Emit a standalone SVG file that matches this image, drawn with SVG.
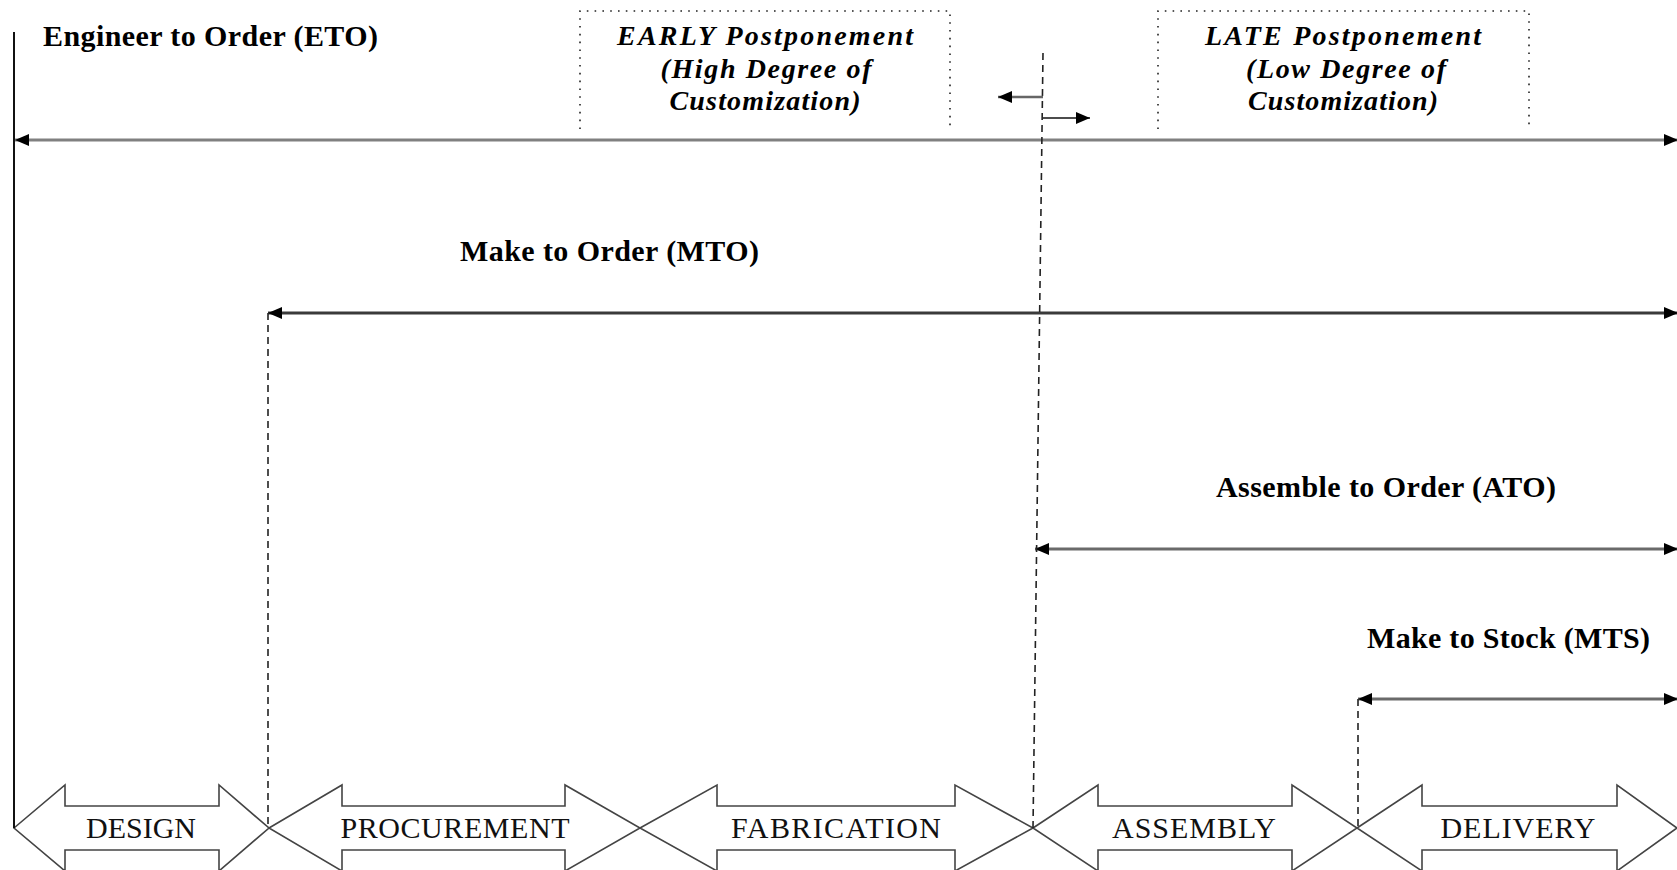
<svg xmlns="http://www.w3.org/2000/svg" width="1677" height="870" viewBox="0 0 1677 870">
  <style>
    .head { font-family: "Liberation Serif", "Times New Roman", serif; font-weight: bold; font-size: 30px; fill: #000; }
    .note { font-family: "Liberation Serif", "Times New Roman", serif; font-weight: bold; font-style: italic; font-size: 28px; fill: #000; text-anchor: middle; }
    .stage { font-family: "Liberation Serif", "Times New Roman", serif; font-size: 30px; fill: #111; text-anchor: middle; }
    .block { fill: #fff; stroke: #444; stroke-width: 1.6; stroke-linejoin: miter; }
    .span { fill: none; stroke-width: 3; marker-start: url(#ah); marker-end: url(#ah); }
    .dash { fill: none; stroke: #222; stroke-width: 1.6; stroke-dasharray: 7 5; }
    .dots { fill: none; stroke: #222; stroke-width: 1.6; stroke-dasharray: 1.6 6.2; }
  </style>
  <defs>
    <marker id="ah" viewBox="0 0 14 12" refX="14" refY="6" markerWidth="14" markerHeight="12" markerUnits="userSpaceOnUse" orient="auto-start-reverse">
      <path d="M0,0 L14,6 L0,12 Z" fill="#000"/>
    </marker>
  </defs>

  <rect width="1677" height="870" fill="#fff"/>

  <!-- postponement annotation boxes (dotted, open at the bottom) -->
  <g id="early">
    <path class="dots" d="M580,129 L580,11 L950,11 L950,129"/>
    <text class="note" x="765" y="45" textLength="296" lengthAdjust="spacing">EARLY Postponement</text>
    <text class="note" x="766" y="78" textLength="211" lengthAdjust="spacing">(High Degree of</text>
    <text class="note" x="765" y="110" textLength="191" lengthAdjust="spacing">Customization)</text>
  </g>
  <g id="late">
    <path class="dots" d="M1158,129 L1158,11 L1529,11 L1529,129"/>
    <text class="note" x="1343" y="45" textLength="276" lengthAdjust="spacing">LATE  Postponement</text>
    <text class="note" x="1346" y="78" textLength="200" lengthAdjust="spacing">(Low Degree of</text>
    <text class="note" x="1343" y="110" textLength="190" lengthAdjust="spacing">Customization)</text>
  </g>

  <!-- strategy labels -->
  <g id="eto">
    <text class="head" x="43" y="46" textLength="335" lengthAdjust="spacing">Engineer to Order (ETO)</text>
  </g>
  <g id="mto">
    <text class="head" x="460" y="261" textLength="299" lengthAdjust="spacing">Make to Order (MTO)</text>
  </g>
  <g id="ato">
    <text class="head" x="1216" y="497" textLength="340" lengthAdjust="spacing">Assemble to Order (ATO)</text>
  </g>
  <g id="mts">
    <text class="head" x="1367" y="648" textLength="283" lengthAdjust="spacing">Make to Stock (MTS)</text>
  </g>

  <!-- process stages -->
  <g id="design">
    <path class="block" d="M14,828 L65,785 L65,806 L219,806 L219,785 L269,828 L219,871 L219,850 L65,850 L65,871 Z"/>
    <text class="stage" x="141" y="838">DESIGN</text>
  </g>
  <g id="procurement">
    <path class="block" d="M269,828 L342,785 L342,806 L565,806 L565,785 L640,828 L565,871 L565,850 L342,850 L342,871 Z"/>
    <text class="stage" x="455" y="838" textLength="229" lengthAdjust="spacing">PROCUREMENT</text>
  </g>
  <g id="fabrication">
    <path class="block" d="M640,828 L717,785 L717,806 L955,806 L955,785 L1033,828 L955,871 L955,850 L717,850 L717,871 Z"/>
    <text class="stage" x="836" y="838" textLength="210" lengthAdjust="spacing">FABRICATION</text>
  </g>
  <g id="assembly">
    <path class="block" d="M1033,828 L1098,785 L1098,806 L1292,806 L1292,785 L1357,828 L1292,871 L1292,850 L1098,850 L1098,871 Z"/>
    <text class="stage" x="1194" y="838" textLength="164" lengthAdjust="spacing">ASSEMBLY</text>
  </g>
  <g id="delivery">
    <path class="block" d="M1357,828 L1422,785 L1422,806 L1617,806 L1617,785 L1677,828 L1617,871 L1617,850 L1422,850 L1422,871 Z"/>
    <text class="stage" x="1518" y="838" textLength="155" lengthAdjust="spacing">DELIVERY</text>
  </g>

  <!-- connectors: spans, decoupling line and boundary markers -->
  <g id="connectors">
    <line x1="14" y1="32" x2="14" y2="828" stroke="#111" stroke-width="2"/>
    <line class="span" x1="15" y1="140" x2="1678" y2="140" stroke="#808080"/>
    <line class="span" x1="268" y1="313" x2="1678" y2="313" stroke="#3a3a3a" stroke-width="2.2"/>
    <line class="span" x1="1035" y1="549" x2="1678" y2="549" stroke="#6a6a6a"/>
    <line class="span" x1="1358" y1="699" x2="1678" y2="699" stroke="#6a6a6a"/>

    <line class="dash" x1="1043" y1="53" x2="1033" y2="828"/>
    <line class="dash" x1="268" y1="313" x2="268" y2="828"/>
    <line class="dash" x1="1358" y1="699" x2="1358" y2="828"/>

    <line x1="1043" y1="97" x2="998" y2="97" stroke="#666" stroke-width="2.5" marker-end="url(#ah)"/>
    <line x1="1043" y1="118" x2="1090" y2="118" stroke="#111" stroke-width="1.6" marker-end="url(#ah)"/>
  </g>
</svg>
